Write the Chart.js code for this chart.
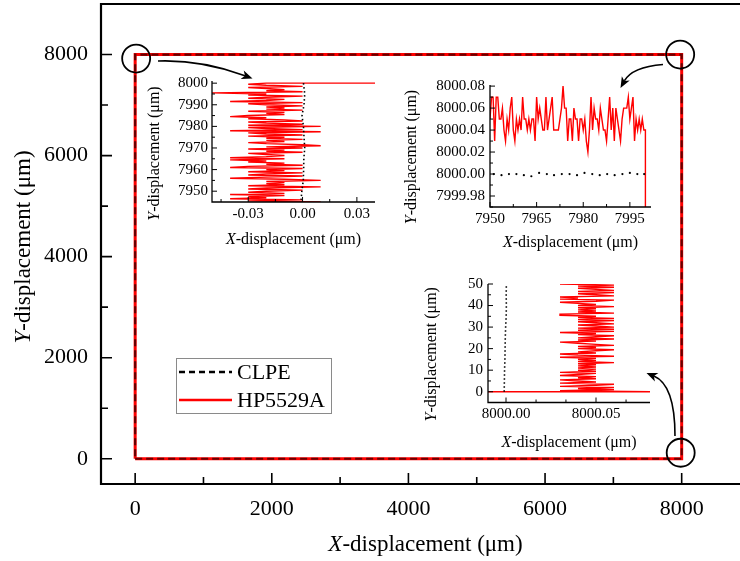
<!DOCTYPE html>
<html>
<head>
<meta charset="utf-8">
<script src="https://cdn.jsdelivr.net/npm/chart.js@4.4.1/dist/chart.umd.min.js"></script>
<style>
  body { margin: 0; background: #fff; width: 740px; height: 561px; overflow: hidden; position: relative; }
  canvas { position: absolute; }
</style>
</head>
<body>
<canvas id="main" width="760" height="561" style="left:0px;top:0px"></canvas>
<canvas id="insetA" width="250" height="180" style="left:130px;top:70px"></canvas>
<canvas id="insetB" width="260" height="185" style="left:400px;top:70px"></canvas>
<canvas id="insetC" width="250" height="185" style="left:410px;top:270px"></canvas>
<script>
// ---- main square path ----
const clpeX = [0, 8000, 8000, 0, 0];
const clpeY = [0, 0, 8000, 8000, 0];
const hpX = [0, 8000, 8000, 0, 0];
const hpY = [0, 0, 8000, 8000, 0];
const mainXTicks = [0, 2000, 4000, 6000, 8000];
const mainYTicks = [0, 2000, 4000, 6000, 8000];

// ---- inset A: corner (0, 8000), going down the left edge ----
const insetA_hpY = [8000, 8000, 7999.5, 7999, 7998.5, 7998, 7997.5, 7997, 7996.5, 7996, 7995.5, 7995, 7994.5, 7994, 7993.5, 7993, 7992.5, 7992, 7991.5, 7991, 7990.5, 7990, 7989.5, 7989, 7988.5, 7988, 7987.5, 7987, 7986.5, 7986, 7985.5, 7985, 7984.5, 7984, 7983.5, 7983, 7982.5, 7982, 7981.5, 7981, 7980.5, 7980, 7979.5, 7979, 7978.5, 7978, 7977.5, 7977, 7976.5, 7976, 7975.5, 7975, 7974.5, 7974, 7973.5, 7973, 7972.5, 7972, 7971.5, 7971, 7970.5, 7970, 7969.5, 7969, 7968.5, 7968, 7967.5, 7967, 7966.5, 7966, 7965.5, 7965, 7964.5, 7964, 7963.5, 7963, 7962.5, 7962, 7961.5, 7961, 7960.5, 7960, 7959.5, 7959, 7958.5, 7958, 7957.5, 7957, 7956.5, 7956, 7955.5, 7955, 7954.5, 7954, 7953.5, 7953, 7952.5, 7952, 7951.5, 7951, 7950.5, 7950, 7949.5, 7949, 7948.5, 7948, 7947.5, 7947, 7946.5, 7946, 7945.5, 7945, 7944.5];
const insetA_hpX = [0.045, -0.02, -0.03, -0.02, 0.0, -0.03, -0.02, -0.01, -0.02, 0.0, -0.05, -0.02, -0.03, 0.0, -0.02, -0.03, -0.01, -0.02, -0.04, 0.0, -0.03, -0.02, 0.0, -0.02, -0.01, -0.02, 0.0, -0.03, -0.01, -0.02, -0.01, -0.03, -0.04, -0.02, -0.03, -0.01, 0.0, -0.03, -0.02, 0.0, -0.03, 0.01, -0.03, -0.02, 0.0, -0.04, 0.01, -0.03, -0.02, 0.0, -0.03, -0.01, -0.02, 0.0, -0.02, -0.01, -0.03, -0.02, 0.0, 0.01, -0.02, 0.0, -0.03, -0.01, -0.02, 0.0, -0.03, -0.02, -0.01, -0.02, -0.04, -0.01, -0.04, -0.02, -0.03, -0.01, -0.02, 0.0, -0.03, -0.04, 0.0, -0.02, -0.01, -0.03, 0.0, -0.02, -0.03, 0.0, -0.02, -0.04, -0.01, 0.01, -0.02, -0.01, -0.02, -0.01, -0.03, 0.01, -0.02, -0.03, 0.0, -0.02, -0.03, -0.01, -0.04, -0.01, -0.03, -0.02, -0.04, 0.0, -0.03, 0.01, -0.02];
const insetA_clpeY = [8000, 7995, 7990, 7985, 7980, 7975, 7970, 7965, 7960, 7955, 7950, 7946];
const insetA_clpeX = [0.0005, 0.0012, 0.0008, -0.0003, 0.0005, 0.0008, 0.0012, 0.0007, 0.0006, 0.0004, -0.0004, -0.0008];
const insetA_xTicks = [-0.03, 0.0, 0.03];
const insetA_yTicks = [7950, 7960, 7970, 7980, 7990, 8000];

// ---- inset B: corner (8000, 8000), along the top edge ----
const insetB_hpX = [8000, 8000, 7999.5, 7999, 7998.5, 7998, 7997.5, 7997, 7996.5, 7996, 7995.5, 7995, 7994.5, 7994, 7993.5, 7993, 7992.5, 7992, 7991.5, 7991, 7990.5, 7990, 7989.5, 7989, 7988.5, 7988, 7987.5, 7987, 7986.5, 7986, 7985.5, 7985, 7984.5, 7984, 7983.5, 7983, 7982.5, 7982, 7981.5, 7981, 7980.5, 7980, 7979.5, 7979, 7978.5, 7978, 7977.5, 7977, 7976.5, 7976, 7975.5, 7975, 7974.5, 7974, 7973.5, 7973, 7972.5, 7972, 7971.5, 7971, 7970.5, 7970, 7969.5, 7969, 7968.5, 7968, 7967.5, 7967, 7966.5, 7966, 7965.5, 7965, 7964.5, 7964, 7963.5, 7963, 7962.5, 7962, 7961.5, 7961, 7960.5, 7960, 7959.5, 7959, 7958.5, 7958, 7957.5, 7957, 7956.5, 7956, 7955.5, 7955, 7954.5, 7954, 7953.5, 7953, 7952.5, 7952, 7951.5, 7951, 7950.5, 7950];
const insetB_hpY = [7999.9, 8000.04, 8000.04, 8000.05, 8000.04, 8000.05, 8000.04, 8000.05, 8000.03, 8000.07, 8000.06, 8000.05, 8000.07, 8000.06, 8000.06, 8000.06, 8000.05, 8000.03, 8000.04, 8000.05, 8000.06, 8000.03, 8000.06, 8000.04, 8000.07, 8000.05, 8000.03, 8000.04, 8000.04, 8000.05, 8000.06, 8000.04, 8000.05, 8000.05, 8000.06, 8000.04, 8000.07, 8000.04, 8000.02, 8000.03, 8000.05, 8000.04, 8000.05, 8000.05, 8000.03, 8000.05, 8000.05, 8000.06, 8000.03, 8000.05, 8000.05, 8000.03, 8000.06, 8000.06, 8000.08, 8000.06, 8000.05, 8000.04, 8000.04, 8000.04, 8000.04, 8000.07, 8000.06, 8000.05, 8000.04, 8000.07, 8000.04, 8000.04, 8000.05, 8000.06, 8000.05, 8000.07, 8000.03, 8000.05, 8000.05, 8000.04, 8000.05, 8000.04, 8000.05, 8000.05, 8000.07, 8000.04, 8000.05, 8000.04, 8000.05, 8000.03, 8000.04, 8000.07, 8000.06, 8000.04, 8000.05, 8000.03, 8000.04, 8000.06, 8000.05, 8000.05, 8000.07, 8000.07, 8000.03, 8000.07, 8000.07, 8000.05];
const insetB_clpeX = [7951.2, 7953.7, 7956.1, 7958.5, 7960.9, 7963.3, 7965.8, 7968.3, 7970.6, 7973.1, 7975.6, 7978.0, 7980.4, 7982.9, 7985.3, 7987.7, 7990.1, 7992.6, 7995.0, 7997.4, 7999.6];
const insetB_clpeY = [8000.000, 7999.999, 8000.000, 8000.000, 7999.999, 7999.998, 8000.001, 8000.000, 7999.999, 8000.000, 8000.000, 7999.999, 8000.001, 8000.000, 7999.999, 8000.000, 7999.999, 8000.000, 8000.001, 8000.000, 8000.000];
const insetB_xTicks = [7950, 7965, 7980, 7995];
const insetB_yTicks = [7999.98, 8000.00, 8000.02, 8000.04, 8000.06, 8000.08];

// ---- inset C: corner (8000, 0), going up the right edge ----
const insetC_hpY = [0, 0, 0.5, 1, 1.5, 2, 2.5, 3, 3.5, 4, 4.5, 5, 5.5, 6, 6.5, 7, 7.5, 8, 8.5, 9, 9.5, 10, 10.5, 11, 11.5, 12, 12.5, 13, 13.5, 14, 14.5, 15, 15.5, 16, 16.5, 17, 17.5, 18, 18.5, 19, 19.5, 20, 20.5, 21, 21.5, 22, 22.5, 23, 23.5, 24, 24.5, 25, 25.5, 26, 26.5, 27, 27.5, 28, 28.5, 29, 29.5, 30, 30.5, 31, 31.5, 32, 32.5, 33, 33.5, 34, 34.5, 35, 35.5, 36, 36.5, 37, 37.5, 38, 38.5, 39, 39.5, 40, 40.5, 41, 41.5, 42, 42.5, 43, 43.5, 44, 44.5, 45, 45.5, 46, 46.5, 47, 47.5, 48, 48.5, 49, 49.5, 50, 50.5];
const insetC_hpX = [7999.98, 8000.08, 8000.03, 8000.06, 8000.04, 8000.06, 8000.03, 8000.05, 8000.06, 8000.03, 8000.05, 8000.04, 8000.03, 8000.05, 8000.04, 8000.05, 8000.03, 8000.04, 8000.05, 8000.03, 8000.05, 8000.04, 8000.05, 8000.04, 8000.05, 8000.04, 8000.05, 8000.04, 8000.06, 8000.04, 8000.05, 8000.04, 8000.05, 8000.03, 8000.06, 8000.04, 8000.03, 8000.05, 8000.04, 8000.05, 8000.06, 8000.04, 8000.05, 8000.04, 8000.06, 8000.05, 8000.04, 8000.03, 8000.05, 8000.04, 8000.06, 8000.04, 8000.05, 8000.06, 8000.04, 8000.05, 8000.03, 8000.06, 8000.04, 8000.06, 8000.04, 8000.06, 8000.05, 8000.04, 8000.06, 8000.05, 8000.04, 8000.06, 8000.04, 8000.06, 8000.04, 8000.05, 8000.03, 8000.03, 8000.06, 8000.04, 8000.05, 8000.04, 8000.05, 8000.04, 8000.06, 8000.04, 8000.05, 8000.04, 8000.03, 8000.05, 8000.06, 8000.03, 8000.04, 8000.03, 8000.06, 8000.05, 8000.04, 8000.06, 8000.04, 8000.06, 8000.05, 8000.04, 8000.06, 8000.04, 8000.06, 8000.03, 8000.04];
const insetC_clpeY = [0, 5, 10, 15, 20, 25, 30, 35, 40, 45, 50];
const insetC_clpeX = [7999.9990, 7999.9991, 7999.9992, 7999.9994, 7999.9995, 7999.9996, 7999.9998, 8000.0001, 8000.0002, 8000.0001, 8000.0002];
const insetC_xTicks = [8000.00, 8000.05];
const insetC_yTicks = [0, 10, 20, 30, 40, 50];

const FONT = "'Liberation Serif', 'Times New Roman', serif";

function pts(xs, ys) {
  return xs.map((x, i) => ({ x: x, y: ys[i] }));
}

// fixed-size axis; label overflow padding is dropped so the plot area lands where we want it
function axis(min, max, ticks, fmt, size, pad, size2, horizontal) {
  return {
    type: "linear",
    min: min,
    max: max,
    afterBuildTicks: (s) => { s.ticks = ticks.map((v) => ({ value: v })); },
    afterFit: (s) => {
      if (horizontal) s.height = size2; else s.width = size2;
      s.paddingTop = 0; s.paddingBottom = 0; s.paddingLeft = 0; s.paddingRight = 0;
    },
    grid: { display: false, drawTicks: false },
    border: { display: false },
    ticks: {
      padding: pad,
      color: "#000",
      autoSkip: false,
      maxRotation: 0,
      font: { family: FONT, size: size },
      callback: fmt,
    },
  };
}

// title with an italic leading letter, e.g. "X" + "-displacement (μm)"
function drawTitle(ctx, lead, rest, cx, cy, size, vertical) {
  ctx.save();
  ctx.translate(cx, cy);
  if (vertical) ctx.rotate(-Math.PI / 2);
  ctx.fillStyle = "#000";
  ctx.textBaseline = "middle";
  ctx.textAlign = "left";
  ctx.font = "italic " + size + "px " + FONT;
  const w1 = ctx.measureText(lead).width;
  ctx.font = size + "px " + FONT;
  const w2 = ctx.measureText(rest).width;
  const x0 = -(w1 + w2) / 2;
  ctx.font = "italic " + size + "px " + FONT;
  ctx.fillText(lead, x0, 0);
  ctx.font = size + "px " + FONT;
  ctx.fillText(rest, x0 + w1, 0);
  ctx.restore();
}

function drawArrow(ctx, p0, c, p1) {
  const ang = Math.atan2(p1[1] - c[1], p1[0] - c[0]);
  const hl = 11, hw = 4.5;
  const cs = Math.cos(ang), sn = Math.sin(ang);
  const bx = p1[0] - hl * cs, by = p1[1] - hl * sn;
  ctx.beginPath();
  ctx.moveTo(p0[0], p0[1]);
  ctx.quadraticCurveTo(c[0], c[1], bx + 3 * cs, by + 3 * sn);
  ctx.stroke();
  ctx.beginPath();
  ctx.moveTo(p1[0], p1[1]);
  ctx.lineTo(bx + hw * sn, by - hw * cs);
  ctx.lineTo(bx + 3 * cs, by + 3 * sn);
  ctx.lineTo(bx - hw * sn, by + hw * cs);
  ctx.closePath();
  ctx.fill();
}

// axes lines, inward ticks, titles
function decor(o) {
  return {
    id: "decor",
    afterDraw(chart) {
      const ctx = chart.ctx;
      const a = chart.chartArea;
      const xs = chart.scales.x, ys = chart.scales.y;
      ctx.save();
      ctx.strokeStyle = "#000";
      ctx.lineWidth = o.axisWidth;
      ctx.beginPath();
      if (o.box) {
        ctx.rect(a.left, a.top, a.right - a.left, a.bottom - a.top);
      } else {
        ctx.moveTo(a.left, a.top);
        ctx.lineTo(a.left, a.bottom);
        ctx.lineTo(a.right, a.bottom);
      }
      ctx.stroke();
      ctx.lineWidth = o.tickWidth;
      ctx.beginPath();
      xs.ticks.forEach((t) => {
        const p = xs.getPixelForValue(t.value);
        ctx.moveTo(p, a.bottom); ctx.lineTo(p, a.bottom - o.major);
      });
      o.xMinor.forEach((v) => {
        const p = xs.getPixelForValue(v);
        ctx.moveTo(p, a.bottom); ctx.lineTo(p, a.bottom - o.minor);
      });
      ys.ticks.forEach((t) => {
        const p = ys.getPixelForValue(t.value);
        ctx.moveTo(a.left, p); ctx.lineTo(a.left + o.major, p);
      });
      o.yMinor.forEach((v) => {
        const p = ys.getPixelForValue(v);
        ctx.moveTo(a.left, p); ctx.lineTo(a.left + o.minor, p);
      });
      ctx.stroke();
      drawTitle(ctx, "X", "-displacement (μm)", (a.left + a.right) / 2 + (o.xTitleDx || 0), a.bottom + o.xTitleDy, o.titleSize, false);
      drawTitle(ctx, "Y", "-displacement (μm)", o.yTitleX, (a.top + a.bottom) / 2 + o.yTitleDy, o.titleSize, true);
      if (o.extra) o.extra(chart, ctx);
      ctx.restore();
    },
  };
}

function mainExtras(chart, ctx) {
  const xs = chart.scales.x, ys = chart.scales.y;
  // circles around the three zoomed corners
  const rings = [[0, 8000, 1, 4], [8000, 8000, -1.5, 0], [8000, 0, -1, -6]];
  ctx.strokeStyle = "#000";
  ctx.lineWidth = 1.8;
  rings.forEach((r) => {
    ctx.beginPath();
    ctx.arc(xs.getPixelForValue(r[0]) + r[2], ys.getPixelForValue(r[1]) + r[3], 14, 0, Math.PI * 2);
    ctx.stroke();
  });
  // arrows from corners to insets
  ctx.fillStyle = "#000";
  ctx.lineWidth = 1.6;
  drawArrow(ctx, [158, 61], [201, 59.5], [252.5, 78.5]);
  drawArrow(ctx, [663, 64.5], [632, 67], [620.5, 88]);
  drawArrow(ctx, [675, 436], [675, 385], [646.5, 373]);
  // legend
  ctx.lineWidth = 1;
  ctx.strokeStyle = "#8a8a8a";
  ctx.strokeRect(176.5, 358.5, 155, 55);
  ctx.lineWidth = 2.5;
  ctx.strokeStyle = "#000";
  ctx.setLineDash([6, 4]);
  ctx.beginPath(); ctx.moveTo(179, 372); ctx.lineTo(232, 372); ctx.stroke();
  ctx.setLineDash([]);
  ctx.strokeStyle = "red";
  ctx.beginPath(); ctx.moveTo(179, 400); ctx.lineTo(232, 400); ctx.stroke();
  ctx.fillStyle = "#000";
  ctx.font = "22px " + FONT;
  ctx.textAlign = "left";
  ctx.textBaseline = "middle";
  ctx.fillText("CLPE", 237, 373);
  ctx.fillText("HP5529A", 237, 401);
}

const base = {
  responsive: false,
  animation: false,
  devicePixelRatio: 1,
  plugins: { legend: { display: false }, tooltip: { enabled: false } },
  elements: { point: { radius: 0 } },
};

// ---- main chart ----
new Chart(document.getElementById("main"), {
  type: "scatter",
  data: {
    datasets: [
      {
        label: "CLPE",
        data: pts(clpeX, clpeY),
        showLine: true,
        borderColor: "rgba(50,0,0,0.75)",
        borderWidth: 2.2,
        borderDash: [7, 4],
        pointRadius: 0,
      },
      {
        label: "HP5529A",
        data: pts(hpX, hpY),
        showLine: true,
        borderColor: "red",
        borderWidth: 3,
        borderJoinStyle: "miter",
        pointRadius: 0,
      },
    ],
  },
  options: Object.assign({}, base, {
    layout: { padding: { top: 4, right: 10, left: 0, bottom: 0 } },
    scales: {
      x: axis(-500, 9000, mainXTicks, (v) => v, 22, 12, 77, true),
      y: axis(-500, 9000, mainYTicks, (v) => v, 22, 13, 101, false),
    },
  }),
  plugins: [decor({
    box: true, axisWidth: 2.2, tickWidth: 1.6, major: 11, minor: 7,
    xMinor: [1000, 3000, 5000, 7000], yMinor: [1000, 3000, 5000, 7000],
    titleSize: 23, xTitleDy: 61, yTitleX: 24, yTitleDy: 3, extra: mainExtras,
  })],
});

function insetSets(hpData, clpeData, clpeAsDots) {
  const black = clpeAsDots
    ? { label: "CLPE", data: clpeData, showLine: false, pointRadius: 1.1, pointBackgroundColor: "#000", pointBorderWidth: 0 }
    : { label: "CLPE", data: clpeData, showLine: true, borderColor: "#000", borderWidth: 1.6, borderDash: [1.5, 2.5], pointRadius: 0 };
  return [
    black,
    { label: "HP5529A", data: hpData, showLine: true, borderColor: "red", borderWidth: 1.4, pointRadius: 0 },
  ];
}

// ---- inset A ----
new Chart(document.getElementById("insetA"), {
  type: "scatter",
  data: { datasets: insetSets(pts(insetA_hpX, insetA_hpY), pts(insetA_clpeX, insetA_clpeY), false) },
  options: Object.assign({}, base, {
    layout: { padding: { top: 11, right: 5, left: 0, bottom: 0 } },
    scales: {
      x: axis(-0.05, 0.04, insetA_xTicks, (v) => v.toFixed(2), 15, 3, 48, true),
      y: axis(7945, 8001, insetA_yTicks, (v) => v, 15, 4, 82, false),
    },
  }),
  plugins: [decor({
    box: false, axisWidth: 1.3, tickWidth: 1, major: 5, minor: 3,
    xMinor: [-0.045, -0.015, 0.015], yMinor: [7955, 7965, 7975, 7985, 7995],
    titleSize: 16, xTitleDy: 38, yTitleX: 25, yTitleDy: 12,
  })],
});

// ---- inset B ----
new Chart(document.getElementById("insetB"), {
  type: "scatter",
  data: { datasets: insetSets(pts(insetB_hpX, insetB_hpY), pts(insetB_clpeX, insetB_clpeY), true) },
  options: Object.assign({}, base, {
    layout: { padding: { top: 15, right: 9, left: 0, bottom: 0 } },
    scales: {
      x: axis(7950, 8001.8, insetB_xTicks, (v) => v, 15, 3, 48, true),
      y: axis(7999.97, 8000.081, insetB_yTicks, (v) => v.toFixed(2), 15, 5, 90, false),
    },
  }),
  plugins: [decor({
    box: false, axisWidth: 1.3, tickWidth: 1, major: 5, minor: 3,
    xMinor: [7957.5, 7972.5, 7987.5], yMinor: [7999.97, 7999.99, 8000.01, 8000.03, 8000.05, 8000.07],
    titleSize: 16, xTitleDy: 36, yTitleX: 12, yTitleDy: 11,
  })],
});

// ---- inset C ----
new Chart(document.getElementById("insetC"), {
  type: "scatter",
  data: { datasets: insetSets(pts(insetC_hpX, insetC_hpY), pts(insetC_clpeX, insetC_clpeY), false) },
  options: Object.assign({}, base, {
    layout: { padding: { top: 14, right: 10, left: 0, bottom: 0 } },
    scales: {
      x: axis(7999.99, 8000.08, insetC_xTicks, (v) => v.toFixed(2), 15, 3, 52.5, true),
      y: axis(-5, 50, insetC_yTicks, (v) => v, 15, 5, 78, false),
    },
  }),
  plugins: [decor({
    box: false, axisWidth: 1.3, tickWidth: 1, major: 5, minor: 3,
    xMinor: [8000.0167, 8000.0333, 8000.0667], yMinor: [5, 15, 25, 35, 45],
    titleSize: 16, xTitleDy: 40, yTitleX: 22, yTitleDy: 11,
  })],
});
</script>
</body>
</html>
